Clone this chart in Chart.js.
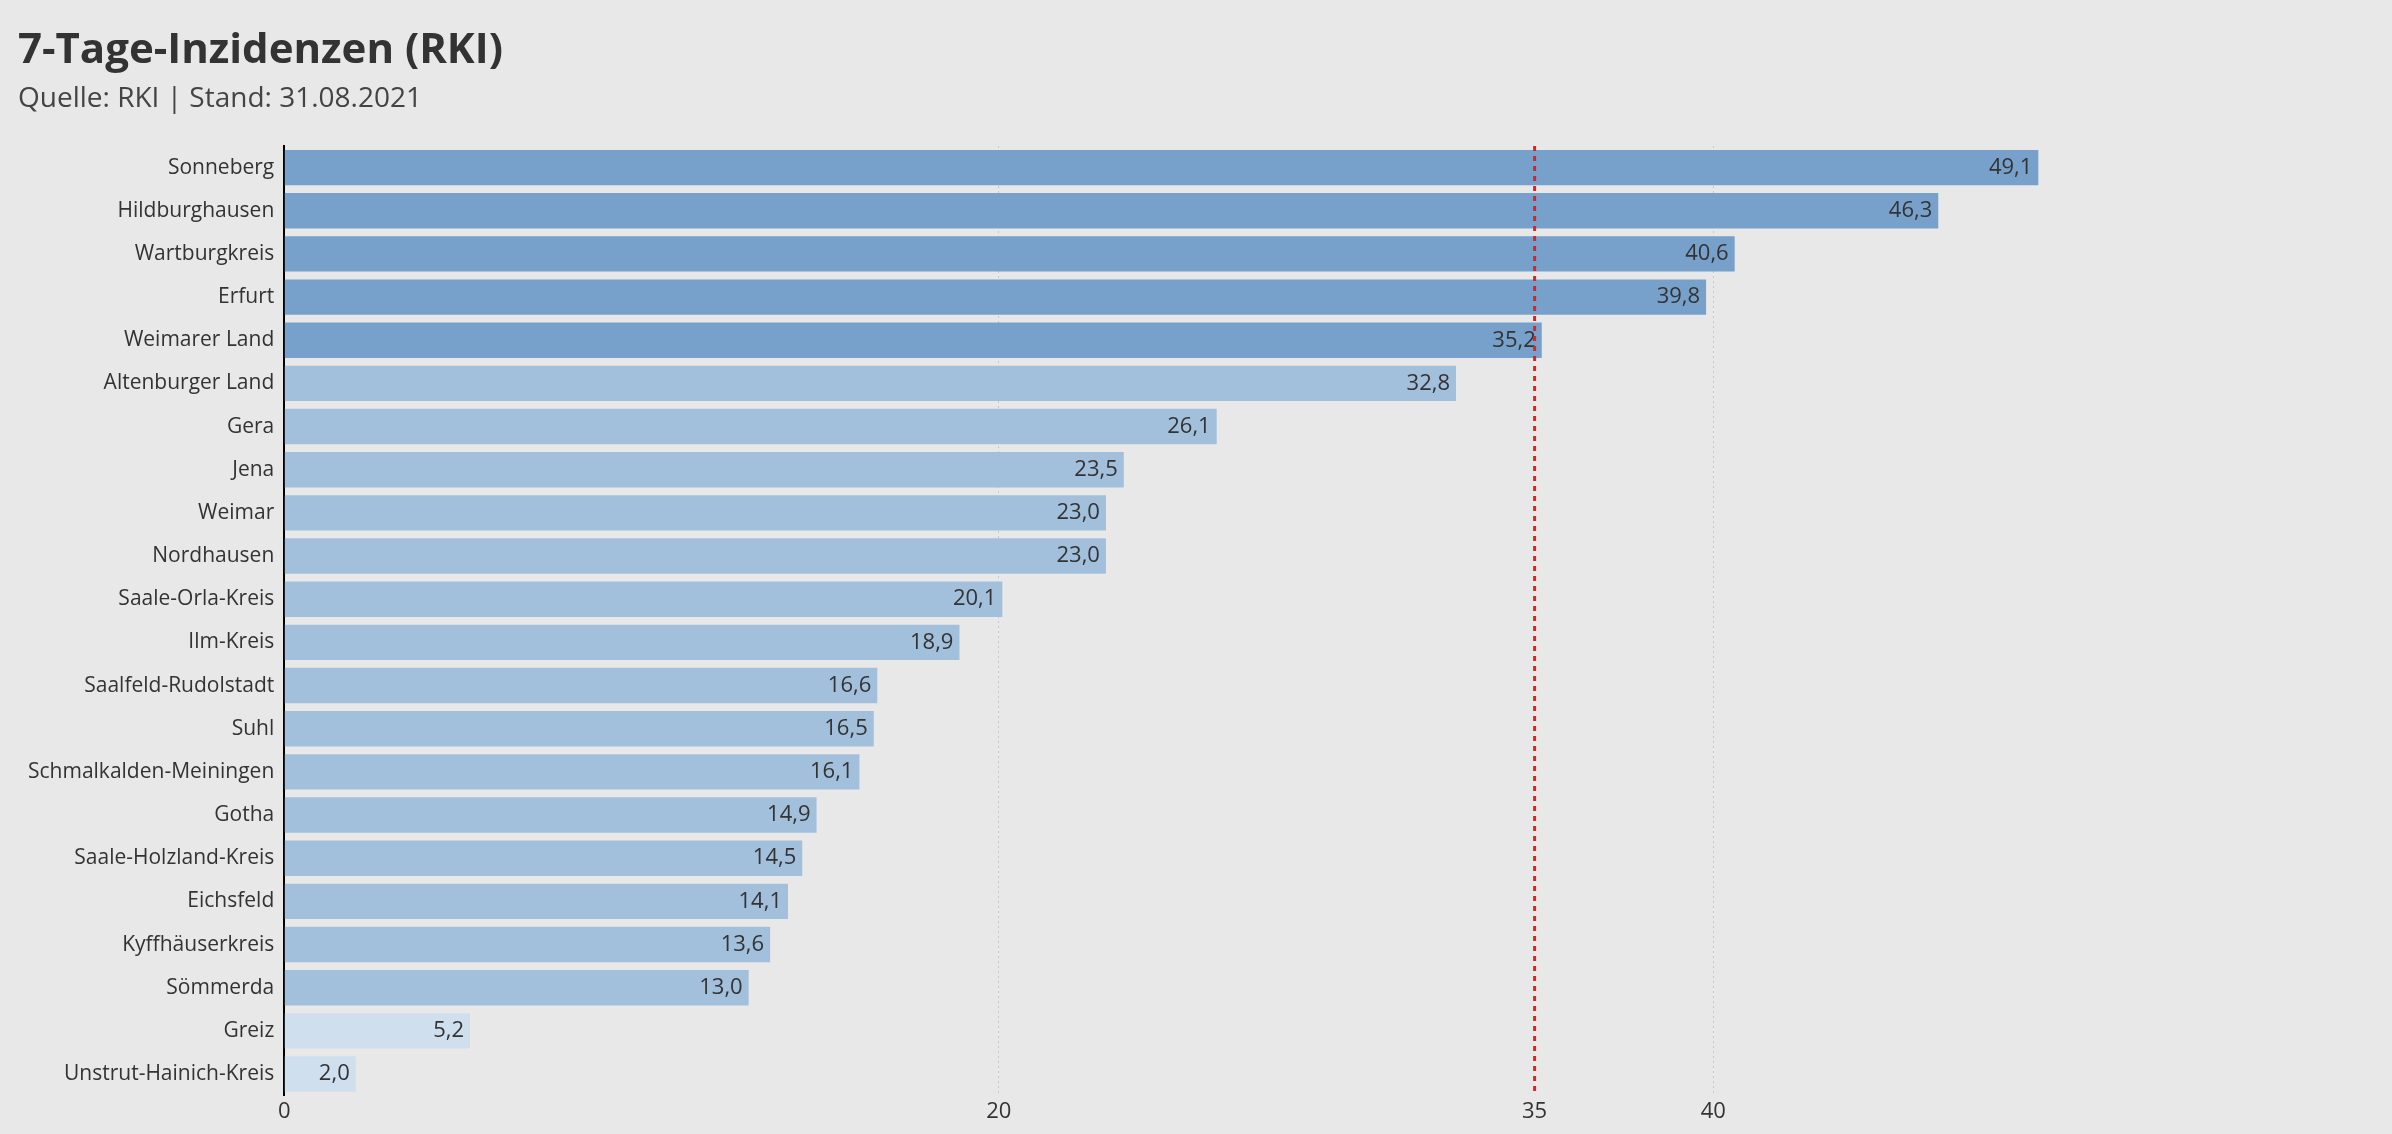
<!DOCTYPE html>
<html>
<head>
<meta charset="utf-8">
<script src="https://cdn.jsdelivr.net/npm/chart.js@4"></script>
<style>
  html, body { margin: 0; background: #e8e8e8; }
  #wrap { width: 2392px; height: 1134px; }
</style>
</head>
<body>
<div id="wrap"><canvas id="chart"></canvas></div>
<script>
const districts = [
  "Sonneberg", "Hildburghausen", "Wartburgkreis", "Erfurt", "Weimarer Land",
  "Altenburger Land", "Gera", "Jena", "Weimar", "Nordhausen",
  "Saale-Orla-Kreis", "Ilm-Kreis", "Saalfeld-Rudolstadt", "Suhl",
  "Schmalkalden-Meiningen", "Gotha", "Saale-Holzland-Kreis", "Eichsfeld",
  "Kyffhäuserkreis", "Sömmerda", "Greiz", "Unstrut-Hainich-Kreis",
];
const incidence = [
  49.1, 46.3, 40.6, 39.8, 35.2, 32.8, 26.1, 23.5, 23.0, 23.0, 20.1, 18.9,
  16.6, 16.5, 16.1, 14.9, 14.5, 14.1, 13.6, 13.0, 5.2, 2.0,
];
const tickValues = [0, 20, 35, 40];
const threshold = 35;

function barColor(v) {
  if (v > threshold) return "#77a1cb";
  if (v >= 10) return "#a2bfdb";
  return "#d0dfee";
}

const fmt = v => v.toFixed(1).replace(".", ",");

// value labels at the end of each bar, plus the red threshold line
const extras = {
  id: "extras",
  afterDatasetsDraw(chart) {
    const ctx = chart.ctx;
    const meta = chart.getDatasetMeta(0);
    ctx.save();
    ctx.font = "22px 'Open Sans'";
    ctx.fillStyle = "#333";
    ctx.textAlign = "right";
    ctx.textBaseline = "middle";
    meta.data.forEach((bar, i) => {
      ctx.fillText(fmt(incidence[i]), bar.x - 6, bar.y);
    });
    const x = chart.scales.x.getPixelForValue(threshold);
    const a = chart.chartArea;
    ctx.strokeStyle = "#e5201b";
    ctx.lineWidth = 3;
    ctx.setLineDash([5, 5]);
    ctx.beginPath();
    ctx.moveTo(x, a.top);
    ctx.lineTo(x, a.bottom);
    ctx.stroke();
    ctx.restore();
  },
};

new Chart(document.getElementById("chart"), {
  type: "bar",
  data: {
    labels: districts,
    datasets: [{
      data: incidence,
      backgroundColor: incidence.map(barColor),
      categoryPercentage: 0.82,
      barPercentage: 1,
    }],
  },
  options: {
    indexAxis: "y",
    responsive: true,
    maintainAspectRatio: false,
    animation: false,
    layout: { padding: { left: 18, right: 0, top: 8, bottom: 6 } },
    plugins: {
      legend: { display: false },
      tooltip: { enabled: false },
      title: {
        display: true,
        text: "7-Tage-Inzidenzen (RKI)",
        align: "start",
        color: "#333",
        font: { family: "Open Sans", size: 42, weight: "bold" },
        padding: { top: 18, bottom: 6 },
      },
      subtitle: {
        display: true,
        text: "Quelle: RKI | Stand: 31.08.2021",
        align: "start",
        color: "#444",
        font: { family: "Open Sans", size: 28 },
        padding: { bottom: 30 },
      },
    },
    scales: {
      x: {
        min: 0,
        max: 59,
        afterBuildTicks: axis => { axis.ticks = tickValues.map(v => ({ value: v })); },
        ticks: {
          color: "#333",
          font: { family: "Open Sans", size: 22 },
          callback: v => v,
        },
        grid: {
          color: c => (c.tick && (c.tick.value === 20 || c.tick.value === 40)) ? "#c8c8c8" : "rgba(0,0,0,0)",
          drawTicks: false,
        },
        border: { display: false, dash: [2, 3] },
      },
      y: {
        ticks: { color: "#333", font: { family: "Open Sans", size: 21 }, padding: 10 },
        grid: { display: false, drawTicks: false },
        border: { display: true, color: "#000", width: 2 },
      },
    },
  },
  plugins: [extras],
});
</script>
</body>
</html>
